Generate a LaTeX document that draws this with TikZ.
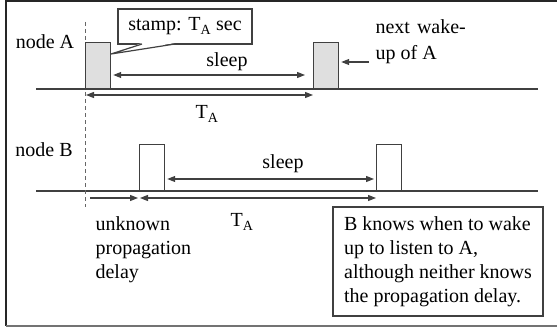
\documentclass[tikz,border=0pt]{standalone}
\usepackage{fontspec}
\setmainfont{Liberation Serif}
\usetikzlibrary{arrows.meta}

\begin{document}
\begin{tikzpicture}[x=1pt,y=-1pt,line width=1.2pt,
  every node/.style={font=\fontsize{20}{24}\selectfont},
  slot/.style={draw=black!75,fill=white,minimum width=25,minimum height=46,inner sep=0pt,anchor=south west},
  tip/.style={draw=black!75,-{Triangle[length=8pt,width=6pt]}},
  twotip/.style={draw=black!75,{Triangle[length=8pt,width=6pt]}-{Triangle[length=8pt,width=6pt]}},
  textbox/.style={draw=black!75,fill=white,inner sep=0pt}]
\useasboundingbox (0,0) rectangle (557,329);
\draw[black!85,line width=1.6pt] (557,1) -- (6,1) -- (6,326);
\draw[black!55,line width=2pt] (6,326) -- (557,326);
\coordinate (lineA0) at (36,89);
\coordinate (lineA1) at (538,89);
\coordinate (lineB0) at (36,191);
\coordinate (lineB1) at (538,191);
\draw[black!75] (lineA0) -- (lineA1);
\draw[black!75] (lineB0) -- (lineB1);
\coordinate (dash0) at (85,22);
\coordinate (dash1) at (85,207);
\draw[black!60,line width=1pt,dash pattern=on 4pt off 3pt] (dash0) -- (dash1);
\node (nameA) at (45,42) {node A};
\node (nameB) at (44,150) {node B};
\node[slot,fill=gray!25] (wakeA) at (85,89) {};
\node[slot,fill=gray!25] (nextA) at (313,89) {};
\node[slot] (wakeB) at (139,191) {};
\node[slot] (nextB) at (376,191) {};
\node[textbox,minimum width=134,minimum height=35] (stamp) at (185,26.5) {stamp: T\textsubscript{A} sec};
\coordinate (stampTip) at (111,54);
\fill[white] (142,43) -- (stampTip) -- (175,43) -- cycle;
\draw[black!75] (142,44) -- (stampTip) -- (175,44);
\draw[twotip,shorten <=2pt,shorten >=8pt] (wakeA.east |- 0,75) -- (nextA.west |- 0,75);
\node (sleepA) at (227,62) {sleep};
\draw[twotip,shorten <=1pt] (wakeA.south west |- 0,95) -- (nextA.south west |- 0,95);
\node (periodA) at (207,114) {T\textsubscript{A}};
\node[align=left,anchor=west,inner sep=2pt] (nextText) at (373,42) {next\hspace{7pt}wake-\\[2pt]up of A};
\coordinate (nextFrom) at (369,62);
\draw[tip,shorten >=2pt] (nextFrom) -- (nextA.east |- nextFrom);
\draw[twotip,shorten <=2pt,shorten >=2pt] (wakeB.east |- 0,179) -- (nextB.west |- 0,179);
\node (sleepB) at (283,164) {sleep};
\coordinate (delay0) at (90,198);
\draw[tip,shorten >=1pt] (delay0) -- (wakeB.south west |- delay0);
\draw[twotip,shorten <=1pt] (wakeB.south west |- 0,198) -- (nextB.south west |- 0,198);
\node (periodB) at (242,222) {T\textsubscript{A}};
\node[align=left,anchor=west,inner sep=2pt] (delayText) at (93,250) {unknown\\propagation\\delay};
\node[textbox,minimum width=210,minimum height=109,align=left] (knows) at (438,261.5)
  {B knows when to wake\\up to listen to A,\\although neither knows\\the propagation delay.};
\end{tikzpicture}
\end{document}
